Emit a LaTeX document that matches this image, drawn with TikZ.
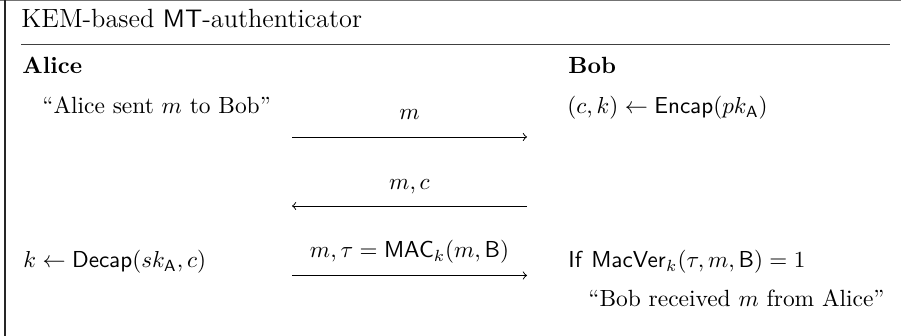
\documentclass[tikz,border=0pt]{standalone}
\usepackage{amsmath}
\begin{document}
\begin{tikzpicture}[x=0.433pt,y=-0.433pt,
  txt/.style={anchor=base west,inner sep=0pt,font=\fontsize{10.15}{12}\selectfont},
  lbl/.style={anchor=base,inner sep=0pt,font=\fontsize{10.15}{12}\selectfont},
  msg/.style={->,line width=0.4pt},
  frame/.style={line width=0.5pt,draw=black!85}]
\useasboundingbox (0,0) rectangle (901,336);
% frame
\draw[frame,draw=black!55] (0,0.6) -- (901,0.6);
\draw[frame] (5,0) -- (5,336);
\coordinate (sepL) at (21,44.5);
\coordinate (sepR) at (890,44.5);
\draw[line width=0.55pt,draw=black!75] (sepL) -- (sepR);
% title
\node[anchor=base west,inner sep=0pt,font=\fontsize{11.4}{13}\selectfont] (title) at (21,28) {KEM-based $\mathsf{MT}$-authenticator};
% parties
\node[txt] (alice) at (22,74) {\textbf{Alice}};
\node[txt] (bob) at (568,74) {\textbf{Bob}};
% row 1
\node[txt] (sent) at (42,114) {``Alice sent $m$ to Bob''};
\node[txt] (encap) at (567,114) {$(c,k)\leftarrow\mathsf{Encap}(pk_{\mathsf{A}})$};
\coordinate (a1s) at (292,137);
\coordinate (a1e) at (527,137);
\draw[msg] (a1s) -- (a1e);
\node[lbl] (l1) at (409.5,120) {$m$};
% row 2
\coordinate (a2s) at (527,206);
\coordinate (a2e) at (292,206);
\draw[msg] (a2s) -- (a2e);
\node[lbl] (l2) at (409.5,190) {$m,c$};
% row 3
\node[txt] (decap) at (23,268) {$k\leftarrow\mathsf{Decap}(sk_{\mathsf{A}},c)$};
\node[txt] (ver) at (568,268) {$\mathsf{If}\ \mathsf{MacVer}_k(\tau,m,\mathsf{B})=1$};
\coordinate (a3s) at (292,275.5);
\coordinate (a3e) at (527,275.5);
\draw[msg] (a3s) -- (a3e);
\node[lbl] (l3) at (409.5,258) {$m,\tau=\mathsf{MAC}_k(m,\mathsf{B})$};
% final
\node[anchor=base east,inner sep=0pt,font=\fontsize{10.15}{12}\selectfont] (recv) at (885,307) {``Bob received $m$ from Alice''};
\end{tikzpicture}
\end{document}
